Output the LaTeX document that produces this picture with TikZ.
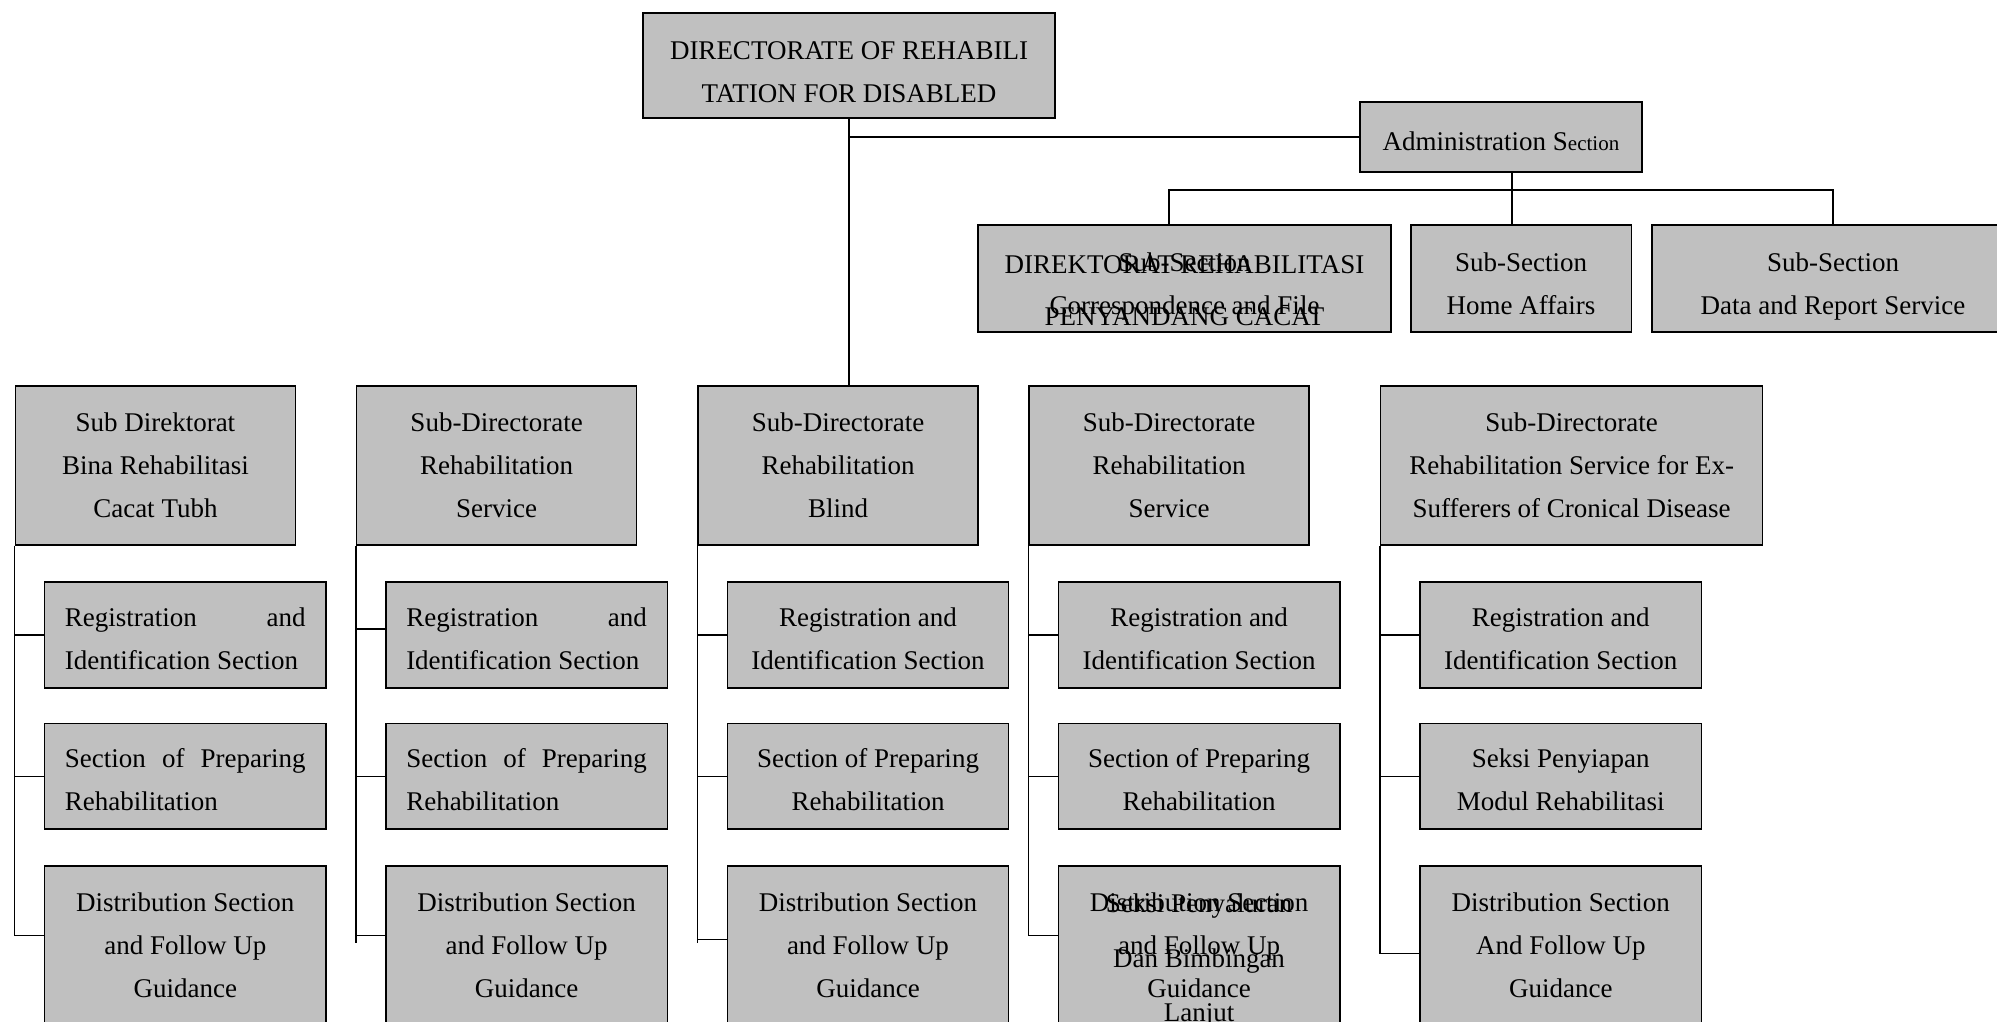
\documentclass[tikz,border=0pt]{standalone}
\usepackage{fontspec}
\setmainfont{Liberation Serif}
\usetikzlibrary{calc}
\definecolor{boxgray}{RGB}{192,192,192}
\newcommand{\myhs}[1]{\rule{0pt}{#1pt}}
\newcommand{\myds}[1]{\rule[-#1pt]{0pt}{#1pt}}
\newcommand{\myfa}{\myhs{33}}
\newcommand{\myfd}{\myds{7}}
\newcommand{\myfb}{\myhs{35.6}}
\begin{document}
\begin{tikzpicture}[x=1pt,y=-1pt,
  box/.style={draw=black, fill=boxgray, line width=1.5pt, inner sep=0pt, align=center, font=\fontsize{27}{43}\selectfont},
  subdir/.style={box, minimum width=280pt, minimum height=159pt},
  sect/.style={box, minimum width=281.4pt, minimum height=105.7pt},
  sectlong/.style={box, minimum width=281.4pt, minimum height=158pt},
  subsec/.style={box, minimum height=107pt},
  just/.style={text width=240.7pt, align=justify},
  conn/.style={draw=black, line width=1.5pt},
  over/.style={font=\fontsize{27}{43}\selectfont, inner sep=0pt, anchor=base}]
\useasboundingbox (0,0) rectangle (1997,1022);
\clip (0,0) rectangle (1997,1022);

% top level
\node[box, minimum width=412pt, minimum height=105pt] (top) at (849,65.5) {\myhs{37.7}DIRECTORATE OF REHABILI\\TATION FOR DISABLED\myfd};
\node[box, minimum width=282pt, minimum height=70pt] (admin) at (1501,137) {\myfa Administration S{\fontsize{21}{43}\selectfont ection}\myfd};
\node[subsec, minimum width=413pt] (corr) at (1184.5,278.5) {\myfb Sub-Section\\Correspondence and File\myfd};
\node[subsec, minimum width=220.5pt] (home) at (1521,278.5) {\myfb Sub-Section\\Home Affairs\myfd};
\node[subsec, minimum width=362pt] (data) at (1833,278.5) {\myfb Sub-Section\\Data and Report Service\myfd};

% sub-directorates
\node[subdir] (s1) at (155.4,465.5) {Sub Direktorat\\Bina Rehabilitasi\\Cacat Tubh};
\node[subdir] (s2) at (496.7,465.5) {Sub-Directorate\\Rehabilitation\\Service};
\node[subdir] (s3) at (838,465.5) {Sub-Directorate\\Rehabilitation\\Blind};
\node[subdir] (s4) at (1169,465.5) {Sub-Directorate\\Rehabilitation\\Service};
\node[subdir, minimum width=382pt] (s5) at (1571.6,465.5) {Sub-Directorate\\Rehabilitation Service for Ex-\\Sufferers of Cronical Disease};

% column 1
\node[sect, just] (r11) at (185.3,634.9) {\myfa Registration and\linebreak Identification Section\myfd};
\node[sect, just] (r12) at (185.3,776.3) {\myfa Section of Preparing\linebreak Rehabilitation\myfd};
\node[sectlong] (r13) at (185.3,945) {Distribution Section\\and Follow Up\\Guidance};
% column 2
\node[sect, just] (r21) at (526.6,634.9) {\myfa Registration and\linebreak Identification Section\myfd};
\node[sect, just] (r22) at (526.6,776.3) {\myfa Section of Preparing\linebreak Rehabilitation\myfd};
\node[sectlong] (r23) at (526.6,945) {Distribution Section\\and Follow Up\\Guidance};
% column 3
\node[sect] (r31) at (868,634.9) {\myfa Registration and\\Identification Section\myfd};
\node[sect] (r32) at (868,776.3) {\myfa Section of Preparing\\Rehabilitation\myfd};
\node[sectlong] (r33) at (868,945) {Distribution Section\\and Follow Up\\Guidance};
% column 4
\node[sect] (r41) at (1199.1,634.9) {\myfa Registration and\\Identification Section\myfd};
\node[sect] (r42) at (1199.1,776.3) {\myfa Section of Preparing\\Rehabilitation\myfd};
\node[sectlong] (r43) at (1199.1,945) {Distribution Section\\and Follow Up\\Guidance};
% column 5
\node[sect] (r51) at (1560.8,634.9) {\myfa Registration and\\Identification Section\myfd};
\node[sect] (r52) at (1560.8,776.3) {\myfa Seksi Penyiapan\\Modul Rehabilitasi\myfd};
\node[sectlong] (r53) at (1560.8,945) {Distribution Section\\And Follow Up\\Guidance};

% overlapping texts
\node[over] (corrA) at (1184.5,273) {DIREKTORAT REHABILITASI};
\node[over] (corrB) at (1184.5,325) {PENYANDANG CACAT};
\node[over] (r43A) at (1199.1,912.5) {Seksi Penyaluran};
\node[over] (r43B) at (1199.1,967.5) {Dan Bimbingan};
\node[over] (r43C) at (1199.1,1021.5) {Lanjut};

% top connectors
\draw[conn] (top.south) -- (top.south |- s3.north);
\draw[conn] (top.south |- admin.west) -- (admin.west);
\coordinate (abus) at (1512,190);
\coordinate (cdrop) at (1169,190);
\coordinate (ddrop) at (data.north |- abus);
\draw[conn] (abus |- admin.south) -- (abus) -- (abus |- home.north);
\draw[conn] (cdrop |- corr.north) -- (cdrop) -- (ddrop) -- (data.north);

% column connectors
\draw[conn] (s1.south west) |- (r11.west);
\draw[conn] (s1.south west) |- (r12.west);
\draw[conn] (s1.south west) |- ($(r13.north west)+(0,70)$);

\draw[conn] (s2.south west) |- ($(r21.west)+(0,-6)$);
\draw[conn] (s2.south west) |- (r22.west);
\draw[conn] (s2.south west) |- ($(r23.north west)+(0,70)$);
\draw[conn] (s2.south west) -- ($(s2.south west |- r23.north west)+(0,78)$);

\draw[conn] (s3.south west) |- (r31.west);
\draw[conn] (s3.south west) |- (r32.west);
\draw[conn] (s3.south west) |- ($(r33.north west)+(0,74)$);
\draw[conn] (s3.south west) -- ($(s3.south west |- r33.north west)+(0,78)$);

\draw[conn] (s4.south west) |- (r41.west);
\draw[conn] (s4.south west) |- (r42.west);
\draw[conn] (s4.south west) |- ($(r43.north west)+(0,70)$);

\draw[conn] (s5.south west) |- (r51.west);
\draw[conn] (s5.south west) |- (r52.west);
\draw[conn] (s5.south west) |- ($(r53.north west)+(0,88)$);
\end{tikzpicture}
\end{document}
